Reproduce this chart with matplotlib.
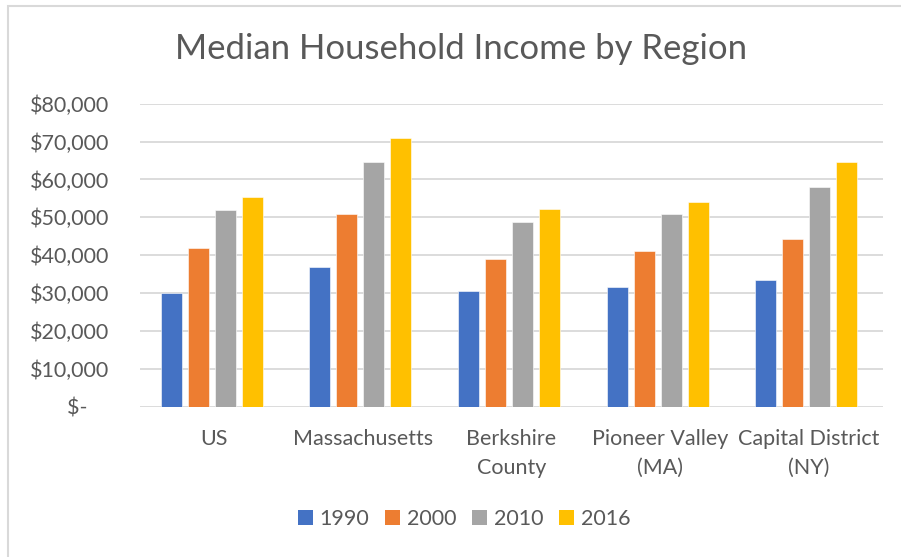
import matplotlib
matplotlib.use("Agg")
import matplotlib.pyplot as plt
from matplotlib.patches import Rectangle, Patch
from matplotlib.ticker import FuncFormatter
import numpy as np

plt.rcParams['font.family'] = ['Lato', 'DejaVu Sans']

# ---------------------------------------------------------------------------
# data
# ---------------------------------------------------------------------------
regions = ["US", "Massachusetts", "Berkshire\nCounty",
           "Pioneer Valley\n(MA)", "Capital District\n(NY)"]
years = ["1990", "2000", "2010", "2016"]

income_1990 = [30000, 36950, 30450, 31600, 33450]
income_2000 = [42000, 50800, 39000, 41200, 44350]
income_2010 = [51900, 64600, 48850, 50800, 57900]
income_2016 = [55300, 70950, 52300, 54150, 64500]

series = [income_1990, income_2000, income_2010, income_2016]
colors = ["#4472C4", "#ED7D31", "#A5A5A5", "#FFC000"]

text_col = "#595959"
grid_col = "#D9D9D9"

# ---------------------------------------------------------------------------
# figure
# ---------------------------------------------------------------------------
fig = plt.figure(figsize=(9.01, 5.57), dpi=100)
W, H = 901, 557

# chart border (Excel chart area outline), only left and top edges show
fig.patches.append(Rectangle((7.5 / W, -0.2), 1.2, 1.2 - 5.5 / H,
                             transform=fig.transFigure, fill=False,
                             edgecolor=grid_col, linewidth=1.5))

ax = fig.add_axes([140 / W, 1 - 406.7 / H, (883 - 140) / W, (406.7 - 103.7) / H])

x = np.arange(len(regions))
step = 27 / 148.6
width = 21 / 148.6
for i, (vals, col) in enumerate(zip(series, colors)):
    ax.bar(x + (i - 1.5) * step - 0.017, vals, width, color=col,
           edgecolor="white", linewidth=0.4, zorder=3, label=years[i])

ax.set_xlim(-0.5, len(regions) - 0.5)
ax.set_ylim(0, 80000)
ax.set_yticks(np.arange(0, 80001, 10000))
ax.yaxis.set_major_formatter(FuncFormatter(
    lambda v, p: "$-    " if v == 0 else f"${v:,.0f}"))
ax.grid(axis="y", color=grid_col, linewidth=1.3, zorder=0)
for s in ax.spines.values():
    s.set_visible(False)
ax.tick_params(axis="y", length=0, pad=22, labelsize=15.5, labelcolor=text_col)
ax.tick_params(axis="x", length=0, pad=16, labelsize=15.5, labelcolor=text_col)
ax.set_xticks(x)
ax.set_xticklabels(regions, linespacing=1.55)

fig.text(461 / W, 1 - 49 / H, "Median Household Income by Region",
         ha="center", va="center", fontsize=25, color=text_col)

handles = [Patch(facecolor=c, edgecolor="none") for c in colors]
fig.legend(handles, years, loc="center", bbox_to_anchor=(464 / W, 1 - 519 / H),
           ncol=4, frameon=False, fontsize=15.5, labelcolor=text_col,
           handlelength=0.7, handleheight=0.7, handletextpad=0.3,
           columnspacing=0.75)

fig.savefig("out.png", dpi=100)
